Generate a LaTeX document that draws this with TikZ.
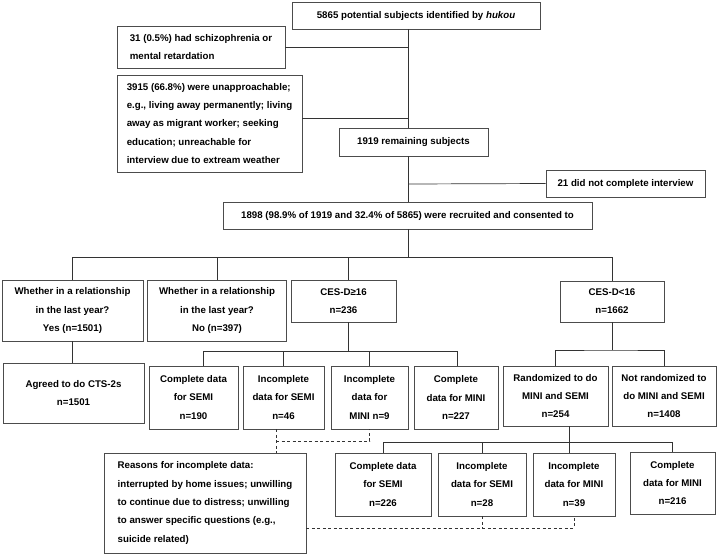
\documentclass[tikz,border=0pt]{standalone}
\usepackage{fontspec}
\setmainfont{Liberation Sans}
\begin{document}
\begin{tikzpicture}[x=1pt,y=-1pt,
  box/.style={draw=black!70,line width=0.8pt,inner sep=0pt,align=center,
    font=\bfseries\fontsize{9.7}{18.3}\selectfont},
  lbox/.style={box,align=left,inner xsep=8pt},
  link/.style={draw=black!80,line width=0.7pt},
  dlink/.style={link,dash pattern=on 3pt off 2.5pt}]
\useasboundingbox (0,0) rectangle (719,555);
% screening
\node[box,minimum width=248,minimum height=27] (pool) at (416,15.5) {5865 potential subjects identified by \textit{hukou}};
\node[lbox,minimum width=168,minimum height=42] (schizo) at (201,47) {31 (0.5\%) had schizophrenia or\\mental retardation};
\node[lbox,minimum width=185,minimum height=97] (away) at (209.5,123.5) {3915 (66.8\%) were unapproachable;\\e.g., living away permanently; living\\away as migrant worker; seeking\\education; unreachable for\\interview due to extream weather};
\node[box,minimum width=149,minimum height=28] (remain) at (413.5,142) {1919 remaining subjects};
\node[box,minimum width=159,minimum height=27] (nointv) at (625.5,183.5) {21 did not complete interview};
\node[box,minimum width=369,minimum height=27] (recruit) at (407.5,215.5) {1898 (98.9\% of 1919 and 32.4\% of 5865) were recruited and consented to};
% first split
\node[box,minimum width=141,minimum height=61] (yes) at (72.5,310.5) {Whether in a relationship\\in the last year?\\Yes (n=1501)};
\node[box,minimum width=139,minimum height=61] (no) at (217,310.5) {Whether in a relationship\\in the last year?\\No (n=397)};
\node[box,minimum width=105,minimum height=42] (high) at (343.5,301) {CES-D≥16\\n=236};
\node[box,minimum width=104,minimum height=41] (low) at (612,301.5) {CES-D<16\\n=1662};
% second row
\node[box,minimum width=141,minimum height=60] (cts) at (73.5,393) {Agreed to do CTS-2s\\n=1501};
\node[box,minimum width=89,minimum height=63] (cs190) at (193.5,397.5) {Complete data\\for SEMI\\n=190};
\node[box,minimum width=81,minimum height=63] (is46) at (283.5,397.5) {Incomplete\\data for SEMI\\n=46};
\node[box,minimum width=77,minimum height=63] (im9) at (369.5,397.5) {Incomplete\\data for\\MINI n=9};
\node[box,minimum width=84,minimum height=63] (cm227) at (456,397.5) {Complete\\data for MINI\\n=227};
\node[box,minimum width=105,minimum height=60] (rand) at (555.5,396) {Randomized to do\\MINI and SEMI\\n=254};
\node[box,minimum width=104,minimum height=60] (notrand) at (664,396) {Not randomized to\\do MINI and SEMI\\n=1408};
% third row
\node[box,minimum width=96,minimum height=63] (cs226) at (383,484.5) {Complete data\\for SEMI\\n=226};
\node[box,minimum width=88,minimum height=63] (is28) at (482,484.5) {Incomplete\\data for SEMI\\n=28};
\node[box,minimum width=82,minimum height=63] (im39) at (574,484.5) {Incomplete\\data for MINI\\n=39};
\node[box,minimum width=85,minimum height=62] (cm216) at (672.5,483) {Complete\\data for MINI\\n=216};
\node[lbox,minimum width=202,minimum height=100] (reasons) at (205,503) {Reasons for incomplete data:\\interrupted by home issues; unwilling\\to continue due to distress; unwilling\\to answer specific questions (e.g.,\\suicide related)};
% spine
\coordinate (sp1) at (408,47);
\coordinate (sp2) at (408,118);
\coordinate (sp3) at (408,184);
\draw[link] (pool.south -| sp1) -- (remain.north -| sp1);
\draw[link] (sp1) -- (schizo.east);
\draw[link] (sp2) -- (sp2 -| away.east);
\draw[link] (remain.south -| sp3) -- (recruit.north -| sp3);
\draw[link] (sp3) -- (nointv.west);
% branches
\coordinate (b1) at (408,257);
\coordinate (hx) at (348,257);
\draw[link] (recruit.south -| b1) -- (b1);
\draw[link] (yes.north) |- (low.north |- b1) -- (low.north);
\draw[link] (no.north) -- (no.north |- b1);
\draw[link] (hx) -- (hx |- high.north);
\draw[link] (yes.south) -- (yes.south |- cts.north);
\coordinate (b2) at (348,351);
\coordinate (b2l) at (203,351);
\coordinate (b2r) at (457,351);
\draw[link] (high.south -| b2) -- (b2);
\draw[link] (b2l) -- (b2r);
\foreach \x/\n in {203/cs190,283/is46,369/im9,457/cm227}{
  \coordinate (d) at (\x,351);
  \draw[link] (d) -- (d |- \n.north);}
\coordinate (b3) at (612,350);
\draw[link] (low.south) -- (b3);
\draw[link] (rand.north) |- (b3) -| (notrand.north);
\coordinate (b4) at (569,442);
\draw[link] (b4 |- rand.south) -- (b4);
\draw[link] (cs226.north) |- (b4) -| (cm216.north);
\draw[link] (is28.north) -- (is28.north |- b4);
\draw[link] (b4) -- (b4 |- im39.north);
% reasons
\coordinate (q1) at (276,441);
\coordinate (q2) at (483,528);
\draw[dlink] (q1 |- is46.south) -- (q1 |- reasons.north);
\draw[dlink] (q1) -| (im9.south);
\draw[dlink] (q2 -| reasons.east) -- (q2 -| im39.south) -- (im39.south);
\draw[dlink] (is28.south) -- (is28.south |- q2);
\end{tikzpicture}
\end{document}
